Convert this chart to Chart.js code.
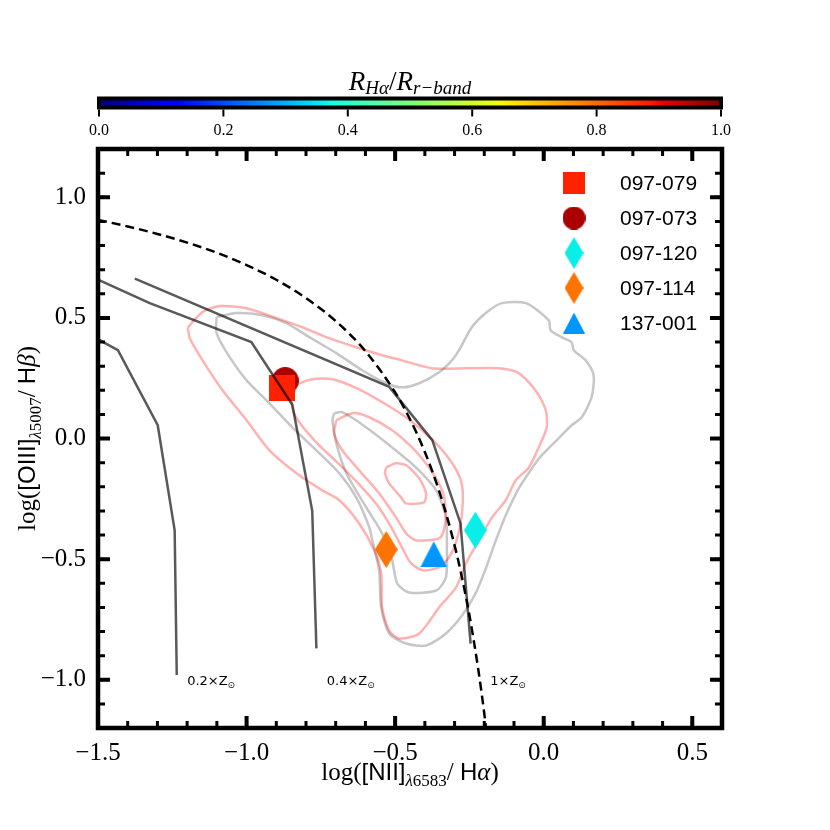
<!DOCTYPE html>
<html>
<head>
<meta charset="utf-8">
<script src="https://cdn.jsdelivr.net/npm/chart.js@4.4.1/dist/chart.umd.min.js"></script>
<style>
  html, body { margin: 0; padding: 0; background: #fff; }
</style>
</head>
<body>
<canvas id="bpt" width="830" height="830"></canvas>
<script>
// tick labels
const xTicks = [-1.5, -1.0, -0.5, 0.0, 0.5];
const yTicks = [-1.0, -0.5, 0.0, 0.5, 1.0];
const cbarTicks = [0.0, 0.2, 0.4, 0.6, 0.8, 1.0];

// galaxies
const names = ["097-079", "097-073", "097-120", "097-114", "137-001"];
const niiHa = [-0.88, -0.87, -0.23, -0.53, -0.37];
const oiiiHb = [0.21, 0.24, -0.38, -0.46, -0.48];
const colors = ["#ff2200", "#aa0000", "#0aeee8", "#ff7400", "#0096ff"];
const shapes = ["square", "circle", "diamond", "diamond", "triangle"];

// Kauffmann et al. (2003) line
const kauffX = [-1.5, -1.4, -1.3, -1.2, -1.1, -1.0, -0.9, -0.8, -0.7, -0.6, -0.5, -0.45, -0.4, -0.35, -0.32, -0.3, -0.28, -0.25, -0.22, -0.2, -0.19];
const kauffY = [0.906, 0.879, 0.848, 0.812, 0.770, 0.719, 0.658, 0.582, 0.487, 0.362, 0.191, 0.080, -0.056, -0.225, -0.349, -0.443, -0.548, -0.733, -0.959, -1.140, -1.242];

// photoionisation model tracks
const track02 = [[-1.52, 0.425], [-1.433, 0.366], [-1.299, 0.055], [-1.242, -0.381], [-1.235, -0.98]];
const track04 = [[-1.52, 0.67], [-1.326, 0.561], [-0.984, 0.40], [-0.846, 0.14], [-0.779, -0.30], [-0.765, -0.87]];
const track10 = [[-1.376, 0.663], [-0.52, 0.214], [-0.375, -0.007], [-0.28, -0.352], [-0.246, -0.85]];
const metalLabels = ["0.2\u00d7Z", "0.4\u00d7Z", "1\u00d7Z"];
const metalLabelX = [-1.2, -0.73, -0.18];
const metalLabelY = -1.0;

// pink contours
const pink1 = [[-1.198, 0.461], [-1.148, 0.524], [-1.091, 0.549], [-1.0, 0.540], [-0.899, 0.499], [-0.812, 0.461], [-0.732, 0.420],
  [-0.631, 0.378], [-0.544, 0.345], [-0.477, 0.324], [-0.376, 0.291], [-0.262, 0.291], [-0.151, 0.291], [-0.084, 0.271],
  [-0.023, 0.192], [0.007, 0.117], [0.010, 0.046], [-0.017, -0.037], [-0.050, -0.120], [-0.094, -0.173], [-0.128, -0.256],
  [-0.174, -0.327], [-0.218, -0.422], [-0.262, -0.518], [-0.295, -0.617], [-0.352, -0.700], [-0.419, -0.808], [-0.487, -0.829],
  [-0.520, -0.796], [-0.544, -0.700], [-0.547, -0.559], [-0.570, -0.464], [-0.621, -0.352], [-0.688, -0.256], [-0.745, -0.215],
  [-0.832, -0.144], [-0.923, -0.049], [-1.0, 0.076], [-1.081, 0.200], [-1.148, 0.324], [-1.191, 0.416]];
const pink2 = [[-0.849, 0.159], [-0.829, 0.221], [-0.779, 0.246], [-0.711, 0.246], [-0.628, 0.208], [-0.537, 0.146], [-0.450, 0.076],
  [-0.369, -0.012], [-0.312, -0.095], [-0.279, -0.173], [-0.272, -0.256], [-0.282, -0.368], [-0.309, -0.472], [-0.346, -0.530],
  [-0.403, -0.547], [-0.446, -0.518], [-0.477, -0.451], [-0.513, -0.368], [-0.560, -0.277], [-0.621, -0.190], [-0.695, -0.099],
  [-0.762, -0.020], [-0.815, 0.055], [-0.842, 0.109]];
const pink3 = [[-0.698, 0.076], [-0.644, 0.105], [-0.587, 0.088], [-0.510, 0.034], [-0.443, -0.037], [-0.386, -0.120], [-0.342, -0.215],
  [-0.329, -0.310], [-0.336, -0.381], [-0.352, -0.414], [-0.430, -0.422], [-0.463, -0.393], [-0.497, -0.327], [-0.554, -0.227],
  [-0.621, -0.132], [-0.678, -0.049], [-0.705, 0.022]];
const pink4 = [[-0.530, -0.120], [-0.497, -0.103], [-0.463, -0.111], [-0.419, -0.165], [-0.396, -0.227], [-0.403, -0.265],
  [-0.463, -0.269], [-0.480, -0.244], [-0.520, -0.186], [-0.534, -0.144]];

// grey contours
const grey1 = [[-1.101, 0.503], [-1.034, 0.520], [-0.946, 0.511], [-0.866, 0.478], [-0.789, 0.420], [-0.698, 0.354], [-0.611, 0.283],
  [-0.530, 0.229], [-0.477, 0.212], [-0.419, 0.229], [-0.352, 0.275], [-0.309, 0.324], [-0.285, 0.366], [-0.242, 0.461],
  [-0.195, 0.520], [-0.141, 0.561], [-0.060, 0.561], [0.017, 0.490], [0.023, 0.449], [0.060, 0.420], [0.094, 0.399], [0.101, 0.366],
  [0.141, 0.324], [0.168, 0.262], [0.161, 0.171], [0.128, 0.088], [0.094, 0.055], [0.050, 0.001], [-0.007, -0.070], [-0.040, -0.124],
  [-0.084, -0.207], [-0.128, -0.319], [-0.161, -0.422], [-0.195, -0.539], [-0.228, -0.639], [-0.275, -0.734], [-0.329, -0.808],
  [-0.396, -0.858], [-0.463, -0.850], [-0.520, -0.808], [-0.547, -0.700], [-0.554, -0.547], [-0.577, -0.422], [-0.587, -0.368],
  [-0.631, -0.244], [-0.688, -0.144], [-0.765, -0.049], [-0.846, 0.046], [-0.923, 0.146], [-1.0, 0.241], [-1.057, 0.337], [-1.101, 0.437]];
const grey2 = [[-0.705, 0.105], [-0.678, 0.109], [-0.597, 0.046], [-0.510, -0.037], [-0.430, -0.120], [-0.362, -0.215], [-0.329, -0.327],
  [-0.326, -0.451], [-0.329, -0.576], [-0.362, -0.630], [-0.453, -0.638], [-0.493, -0.601], [-0.510, -0.505], [-0.544, -0.393],
  [-0.597, -0.286], [-0.664, -0.144], [-0.698, -0.020], [-0.711, 0.076]];

const serif = "'Liberation Serif', 'DejaVu Serif', serif";
const sans = "'Liberation Sans', 'DejaVu Sans', sans-serif";

function fmt(v) {
  return (v < 0 ? "\u2212" : "") + Math.abs(v).toFixed(1);
}

// marker images so the diamonds can be thin like matplotlib's
function makeMarker(shape, w, h, color) {
  const c = document.createElement("canvas");
  c.width = w;
  c.height = h;
  const g = c.getContext("2d");
  g.fillStyle = color;
  g.beginPath();
  if (shape === "square") {
    g.rect(0, 0, w, h);
  } else if (shape === "circle") {
    g.arc(w / 2, h / 2, w / 2, 0, Math.PI * 2);
  } else if (shape === "diamond") {
    g.moveTo(w / 2, 0); g.lineTo(w, h / 2); g.lineTo(w / 2, h); g.lineTo(0, h / 2);
  } else {
    g.moveTo(w / 2, 0); g.lineTo(w, h); g.lineTo(0, h);
  }
  g.closePath();
  g.fill();
  return c;
}
const bigSize = { square: [26, 26], circle: [27, 27], diamond: [23, 37], triangle: [27, 26] };
const smallSize = { square: [22, 22], circle: [23, 23], diamond: [19, 32], triangle: [22, 21] };

function closed(arr) {
  const pts = arr.map(([x, y]) => ({ x, y }));
  pts.push({ x: arr[0][0], y: arr[0][1] });
  return pts;
}
function open(arr) {
  return arr.map(([x, y]) => ({ x, y }));
}

const datasets = [];
datasets.push({
  data: kauffX.map((x, i) => ({ x, y: kauffY[i] })),
  showLine: true, borderColor: "#000", borderWidth: 2.5, borderDash: [9, 5],
  pointRadius: 0, cubicInterpolationMode: "monotone", order: 0
});
[track02, track04, track10].forEach(t => datasets.push({
  data: open(t), showLine: true, borderColor: "rgba(0,0,0,0.65)", borderWidth: 2.5,
  pointRadius: 0, tension: 0, order: 1
}));
names.forEach((n, i) => {
  const [w, h] = bigSize[shapes[i]];
  datasets.push({
    label: n, data: [{ x: niiHa[i], y: oiiiHb[i] }],
    pointStyle: makeMarker(shapes[i], w, h, colors[i]), pointRadius: 14, order: 2
  });
});
[pink1, pink2, pink3, pink4].forEach(p => datasets.push({
  data: closed(p), showLine: true, borderColor: "rgba(255,0,0,0.3)", borderWidth: 2.5,
  pointRadius: 0, tension: 0.25, order: 3
}));
[grey1, grey2].forEach(p => datasets.push({
  data: closed(p), showLine: true, borderColor: "rgba(130,130,130,0.45)", borderWidth: 2.5,
  pointRadius: 0, tension: 0.25, order: 3
}));

function drawRuns(ctx, runs, cx, cy, angle) {
  ctx.save();
  ctx.translate(cx, cy);
  ctx.rotate(angle);
  let total = 0;
  runs.forEach(r => { ctx.font = r.font; r.w = ctx.measureText(r.text).width; total += r.w; });
  let x = -total / 2;
  ctx.textAlign = "left";
  ctx.textBaseline = "alphabetic";
  ctx.fillStyle = "#000";
  runs.forEach(r => { ctx.font = r.font; ctx.fillText(r.text, x, r.dy || 0); x += r.w; });
  ctx.restore();
}

function jetGradient(ctx, x0, x1) {
  const g = ctx.createLinearGradient(x0, 0, x1, 0);
  [[0, "rgb(0,0,128)"], [0.11, "rgb(0,0,255)"], [0.125, "rgb(0,0,255)"], [0.34, "rgb(0,219,255)"],
   [0.375, "rgb(21,255,226)"], [0.64, "rgb(239,255,8)"], [0.66, "rgb(255,236,0)"], [0.89, "rgb(255,24,0)"],
   [0.91, "rgb(232,0,0)"], [1, "rgb(128,0,0)"]].forEach(([s, c]) => g.addColorStop(s, c));
  return g;
}

const decorPlugin = {
  id: "decor",
  afterDraw(chart) {
    const { ctx, chartArea: a, scales: { x, y } } = chart;
    ctx.save();
    ctx.strokeStyle = "#000";
    ctx.lineCap = "butt";

    // inward ticks on all four sides
    const tick = (v, isX, len, lw) => {
      ctx.lineWidth = lw;
      ctx.beginPath();
      if (isX) {
        const p = x.getPixelForValue(v);
        ctx.moveTo(p, a.bottom); ctx.lineTo(p, a.bottom - len);
        ctx.moveTo(p, a.top); ctx.lineTo(p, a.top + len);
      } else {
        const p = y.getPixelForValue(v);
        ctx.moveTo(a.left, p); ctx.lineTo(a.left + len, p);
        ctx.moveTo(a.right, p); ctx.lineTo(a.right - len, p);
      }
      ctx.stroke();
    };
    for (let i = -15; i <= 6; i++) tick(i / 10, true, 7, 3);
    for (let i = -12; i <= 12; i++) tick(i / 10, false, 7, 3);
    xTicks.forEach(v => tick(v, true, 12, 4));
    yTicks.forEach(v => tick(v, false, 12, 4));
    ctx.lineWidth = 4.5;
    ctx.strokeRect(a.left, a.top, a.right - a.left, a.bottom - a.top);

    // colour bar
    const cbTop = 96.5, cbBot = 109.5;
    ctx.fillStyle = "#000";
    ctx.fillRect(a.left - 1, cbTop, a.right - a.left + 2, cbBot - cbTop);
    ctx.fillStyle = jetGradient(ctx, a.left + 3, a.right - 3);
    ctx.fillRect(a.left + 3, cbTop + 4, a.right - a.left - 6, cbBot - cbTop - 8);
    ctx.lineWidth = 2;
    ctx.font = "16px " + serif;
    ctx.textAlign = "center";
    ctx.textBaseline = "middle";
    cbarTicks.forEach(t => {
      const p = a.left + 1 + t * (a.right - a.left - 2);
      ctx.beginPath(); ctx.moveTo(p, cbBot); ctx.lineTo(p, cbBot + 7); ctx.stroke();
      ctx.fillStyle = "#000";
      ctx.fillText(t.toFixed(1), p, 131);
    });
    drawRuns(ctx, [
      { text: "R", font: "italic 27px " + serif },
      { text: "H\u03b1", font: "italic 19px " + serif, dy: 4 },
      { text: "/", font: "27px " + serif },
      { text: "R", font: "italic 27px " + serif },
      { text: "r\u2212band", font: "italic 19px " + serif, dy: 4 }
    ], (a.left + a.right) / 2, 90, 0);

    // axis titles
    drawRuns(ctx, [
      { text: "log(", font: "25px " + serif },
      { text: "[NII]", font: "24px " + sans },
      { text: "\u03bb", font: "italic 17px " + serif, dy: 6 },
      { text: "6583", font: "17px " + serif, dy: 6 },
      { text: "/ ", font: "25px " + serif },
      { text: "H", font: "24px " + sans },
      { text: "\u03b1", font: "italic 25px " + serif },
      { text: ")", font: "25px " + serif }
    ], (a.left + a.right) / 2, 780, 0);
    drawRuns(ctx, [
      { text: "log(", font: "25px " + serif },
      { text: "[OIII]", font: "24px " + sans },
      { text: "\u03bb", font: "italic 17px " + serif, dy: 6 },
      { text: "5007", font: "17px " + serif, dy: 6 },
      { text: "/ ", font: "25px " + serif },
      { text: "H", font: "24px " + sans },
      { text: "\u03b2", font: "italic 25px " + serif },
      { text: ")", font: "25px " + serif }
    ], 35, (a.top + a.bottom) / 2, -Math.PI / 2);

    // metallicity labels
    ctx.textAlign = "left";
    ctx.textBaseline = "alphabetic";
    ctx.fillStyle = "#000";
    metalLabels.forEach((t, i) => {
      const px = x.getPixelForValue(metalLabelX[i]);
      const py = y.getPixelForValue(metalLabelY) + 5;
      ctx.font = "13px 'DejaVu Sans', sans-serif";
      ctx.fillText(t, px, py);
      const w = ctx.measureText(t).width;
      ctx.font = "9px 'DejaVu Sans', sans-serif";
      ctx.fillText("\u2299", px + w, py + 3);
    });

    // legend
    ctx.font = "21px " + sans;
    ctx.textBaseline = "middle";
    names.forEach((n, i) => {
      const ly = a.top + 34 + i * 35;
      const lx = a.right - 148;
      const [w, h] = smallSize[shapes[i]];
      ctx.drawImage(makeMarker(shapes[i], w, h, colors[i]), lx - w / 2, ly - h / 2);
      ctx.fillStyle = "#000";
      ctx.fillText(n, a.right - 102, ly + 1);
    });
    ctx.restore();
  }
};

new Chart(document.getElementById("bpt"), {
  type: "scatter",
  data: { datasets },
  options: {
    responsive: false,
    animation: false,
    devicePixelRatio: 1,
    layout: { padding: { top: 149, right: 108, left: 0, bottom: 0 } },
    plugins: { legend: { display: false }, tooltip: { enabled: false } },
    scales: {
      x: {
        type: "linear", min: -1.5, max: 0.6,
        grid: { display: false }, border: { display: false },
        afterBuildTicks: s => { s.ticks = xTicks.map(v => ({ value: v })); },
        afterFit: s => { s.height = 102; },
        ticks: { font: { family: serif, size: 25 }, color: "#000", padding: 2, maxRotation: 0, autoSkip: false, callback: v => fmt(v) }
      },
      y: {
        type: "linear", min: -1.2, max: 1.2,
        grid: { display: false }, border: { display: false },
        afterBuildTicks: s => { s.ticks = yTicks.map(v => ({ value: v })); },
        afterFit: s => { s.width = 98; },
        ticks: { font: { family: serif, size: 25 }, color: "#000", padding: 4, autoSkip: false, callback: v => fmt(v) }
      }
    }
  },
  plugins: [decorPlugin]
});
</script>
</body>
</html>
